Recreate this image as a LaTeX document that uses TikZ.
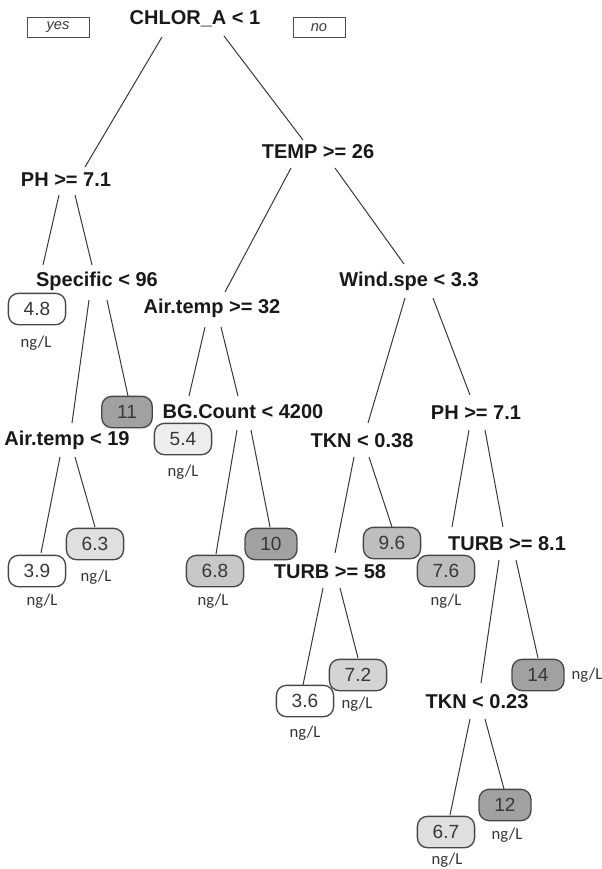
\documentclass[tikz,border=0pt]{standalone}
\usepackage{fontspec}
\setmainfont{Liberation Sans}
\newfontfamily\unitfont{Carlito}
\begin{document}
\begin{tikzpicture}[x=0.75pt,y=-0.75pt,
  split/.style={inner sep=0pt, text=black!90,
    font=\fontsize{15pt}{16pt}\selectfont\bfseries},
  leaf/.style={draw=black!72, line width=1pt, rounded corners=7.5pt,
    fill=#1, text=black!78, inner xsep=11.5pt, inner ysep=0pt,
    minimum height=23.5pt, font=\fontsize{14.3pt}{15pt}\selectfont},
  leaf/.default=white,
  unit/.style={inner sep=0pt, text=black!80,
    font=\unitfont\fontsize{12.5pt}{14pt}\selectfont},
  tag/.style={draw=black!70, line width=0.75pt, inner sep=0pt,
    minimum height=15.5pt, text=black!78,
    font=\fontsize{11pt}{12pt}\selectfont\itshape},
  branch/.style={draw=black!78, line width=0.75pt}]
\useasboundingbox (0,0) rectangle (602,869);

% direction tags
\node[tag, minimum width=46.5pt] (yes) at (58,27.5) {yes};
\node[tag, minimum width=39pt] (no) at (319,27.5) {no};

% split conditions
\node[split] (root) at (195,19) {CHLOR\_A < 1};
\node[split] (ph) at (66,180) {PH >= 7.1};
\node[split] (temp) at (318,152) {TEMP >= 26};
\node[split] (spec) at (97,281) {Specific < 96};
\node[split] (airH) at (212,308) {Air.temp >= 32};
\node[split] (wind) at (409,281) {Wind.spe < 3.3};
\node[split] (airL) at (67,440) {Air.temp < 19};
\node[split] (bg) at (243,412) {BG.Count < 4200};
\node[split] (tkn1) at (362,441) {TKN < 0.38};
\node[split] (phR) at (476,413) {PH >= 7.1};
\node[split] (turb58) at (330,572) {TURB >= 58};
\node[split] (turb81) at (507,544) {TURB >= 8.1};
\node[split] (tkn2) at (477,702) {TKN < 0.23};

% leaves
\definecolor{g1}{gray}{0.935}
\definecolor{g2}{gray}{0.875}
\definecolor{g3}{gray}{0.83}
\definecolor{g4}{gray}{0.785}
\definecolor{g5}{gray}{0.745}
\definecolor{g6}{gray}{0.63}
\node[leaf] (n48) at (37,309) {4.8};
\node[leaf=g6] (n11) at (127,412) {11};
\node[leaf=g1] (n54) at (183,439) {5.4};
\node[leaf=g2] (n63) at (95,544) {6.3};
\node[leaf] (n39) at (37,571) {3.9};
\node[leaf=g4] (n68) at (215,571) {6.8};
\node[leaf=g6] (n10) at (271,544) {10};
\node[leaf=g5] (n96) at (392,543) {9.6};
\node[leaf=g5] (n76) at (446,571) {7.6};
\node[leaf=g3] (n72) at (358,675) {7.2};
\node[leaf] (n36) at (305,701) {3.6};
\node[leaf=g6] (n14) at (538,675) {14};
\node[leaf=g6] (n12) at (505,805) {12};
\node[leaf=g2] (n67) at (446,832) {6.7};

% units
\node[unit] (u48) at (36,343) {ng/L};
\node[unit] (u39) at (42,601) {ng/L};
\node[unit] (u63) at (96,577) {ng/L};
\node[unit] (u54) at (183,472) {ng/L};
\node[unit] (u68) at (213,601) {ng/L};
\node[unit] (u76) at (446,601) {ng/L};
\node[unit] (u72) at (357,704) {ng/L};
\node[unit] (u36) at (305,733) {ng/L};
\node[unit] (u14) at (587,675) {ng/L};
\node[unit] (u12) at (507,835) {ng/L};
\node[unit] (u67) at (447,860) {ng/L};

% branches: \br{parent}{start offset}{child}{end offset}
\newcommand\br[4]{\draw[branch] ([shift={#2}]#1.center) -- ([shift={#4}]#3.center);}
\br{root}{(-33,18)}{ph}{(19,-13)}
\br{root}{(29,17)}{temp}{(-15,-12)}
\br{ph}{(-7,15)}{n48}{(6,-44)}
\br{ph}{(9,15)}{spec}{(-5,-16)}
\br{spec}{(-8,19)}{airL}{(5,-17)}
\br{spec}{(10,19)}{n11}{(1,-16)}
\br{airL}{(-7,17)}{n39}{(4,-18)}
\br{airL}{(8,17)}{n63}{(0,-17)}
\br{temp}{(-27,16)}{airH}{(13,-16)}
\br{temp}{(17,16)}{wind}{(-5,-17)}
\br{airH}{(-7,19)}{n54}{(6,-43)}
\br{airH}{(9,19)}{bg}{(-5,-16)}
\br{bg}{(-6,18)}{n68}{(1,-17)}
\br{bg}{(8,18)}{n10}{(-1,-17)}
\br{wind}{(-4,17)}{tkn1}{(6,-18)}
\br{wind}{(24,17)}{phR}{(-6,-18)}
\br{tkn1}{(-8,16)}{turb58}{(5,-19)}
\br{tkn1}{(7,16)}{n96}{(0,-16)}
\br{phR}{(-7,17)}{n76}{(6,-44)}
\br{phR}{(9,17)}{turb81}{(-4,-17)}
\br{turb58}{(-7,16)}{n36}{(-2,-16)}
\br{turb58}{(10,16)}{n72}{(0,-17)}
\br{turb81}{(-8,16)}{tkn2}{(4,-19)}
\br{turb81}{(9,16)}{n14}{(0,-17)}
\br{tkn2}{(-7,17)}{n67}{(4,-17)}
\br{tkn2}{(8,17)}{n12}{(-1,-16)}
\end{tikzpicture}
\end{document}
